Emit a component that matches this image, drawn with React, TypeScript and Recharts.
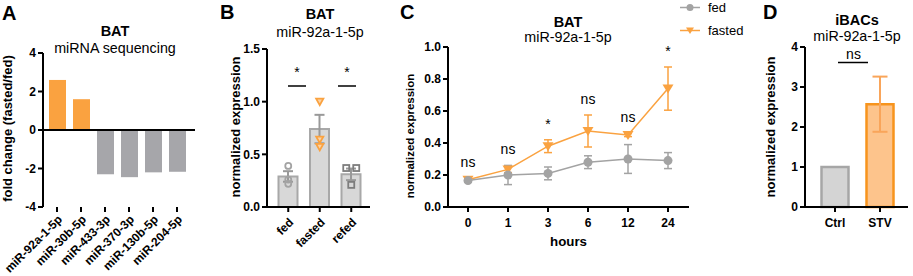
import React from "react";
import {
  BarChart,
  Bar,
  ComposedChart,
  LineChart,
  Line,
  XAxis,
  YAxis,
  Cell,
  ErrorBar,
  ReferenceLine,
} from "recharts";

const W = 913;
const H = 276;
const FONT = "'Liberation Sans', Arial, Helvetica, sans-serif";

const ORANGE = "#faa240";
const GRAY = "#a6a6aa";

// A: BAT miRNA sequencing, fold change fasted/fed
const seqMirs = ["miR-92a-1-5p", "miR-30b-5p", "miR-433-3p", "miR-370-3p", "miR-130b-5p", "miR-204-5p"];
const seqFold = [2.6, 1.6, -2.3, -2.45, -2.2, -2.17];

// B: BAT miR-92a-1-5p by feeding state
const batGroups = ["fed", "fasted", "refed"];
const batMean = [0.29, 0.74, 0.31];
const batSem = [0.05, 0.135, 0.055];
const batRep1 = [0.39, 1.0, 0.37];
const batRep2 = [0.26, 0.64, 0.37];
const batRep3 = [0.22, 0.57, 0.21];

// C: BAT miR-92a-1-5p time course
const hours = ["0", "1", "3", "6", "12", "24"];
const fedMean = [0.165, 0.2, 0.21, 0.28, 0.3, 0.29];
const fedSem = [0.01, 0.06, 0.04, 0.04, 0.09, 0.05];
const fastedMean = [0.17, 0.235, 0.38, 0.475, 0.45, 0.74];
const fastedSem = [0.01, 0.02, 0.04, 0.1, 0.01, 0.135];
const timeSig = ["ns", "ns", "*", "ns", "ns", "*"];

// D: iBACs
const cellGroups = ["Ctrl", "STV"];
const cellMean = [1.0, 2.57];
const cellSem = [undefined, 0.69];

const aData = seqMirs.map((m, i) => ({ mir: m, fold: seqFold[i] }));
const bData = batGroups.map((g, i) => ({
  g,
  mean: batMean[i],
  sem: batSem[i],
  p1: batRep1[i],
  p2: batRep2[i],
  p3: batRep3[i],
}));
const cData = hours.map((h, i) => ({
  h,
  fed: fedMean[i],
  fedErr: fedSem[i],
  fasted: fastedMean[i],
  fastedErr: fastedSem[i],
  top: Math.max(fedMean[i] + fedSem[i], fastedMean[i] + fastedSem[i]),
  sig: timeSig[i],
}));
const dData = cellGroups.map((g, i) => ({ g, mean: cellMean[i], sem: cellSem[i] }));

const axisLine = { stroke: "#000", strokeWidth: 2 };
const tickStyle = { fill: "#000", fontSize: 12, fontWeight: 700, fontFamily: FONT };
const YW = 40;

const rotTick = (dx: number, dy: number) => (props: any) => {
  const { x, y, payload } = props;
  return (
    <text
      transform={`translate(${x + dx},${y + dy}) rotate(-45)`}
      textAnchor="end"
      fontSize={12}
      fontWeight={700}
      fill="#000"
      fontFamily={FONT}
    >
      {payload.value}
    </text>
  );
};

// replicate dots for panel B, small spread when two values overlap
const repKeys = ["p1", "p2", "p3"];
const repDot = (key: string) => (props: any) => {
  const { cx, cy, payload, index } = props;
  if (cx == null || cy == null) return <g key={`${key}-${index}`} />;
  const i = repKeys.indexOf(key);
  let dx = 0;
  repKeys.forEach((k, j) => {
    if (j !== i && Math.abs(payload[k] - payload[key]) < 0.03) dx = i < j ? -5 : 5;
  });
  const x = cx + dx;
  if (payload.g === "fed")
    return <circle key={`${key}-${index}`} cx={x} cy={cy} r={3} fill="none" stroke="#a3a3a3" strokeWidth={1.8} />;
  if (payload.g === "fasted")
    return (
      <path
        key={`${key}-${index}`}
        d={`M${x - 3.6},${cy - 3} L${x + 3.6},${cy - 3} L${x},${cy + 3.4} Z`}
        fill="#fcd3a5"
        stroke={ORANGE}
        strokeWidth={1.8}
      />
    );
  return (
    <rect key={`${key}-${index}`} x={x - 3} y={cy - 3} width={6} height={6} fill="none" stroke="#7d7d7d" strokeWidth={1.8} />
  );
};

const circleDot = (color: string) => (props: any) => {
  const { cx, cy, index } = props;
  if (cx == null || cy == null) return <g key={`c-${index}`} />;
  return <circle key={`c-${index}`} cx={cx} cy={cy} r={4.5} fill={color} />;
};

const triDot = (color: string) => (props: any) => {
  const { cx, cy, index } = props;
  if (cx == null || cy == null) return <g key={`t-${index}`} />;
  return <path key={`t-${index}`} d={`M${cx - 5.5},${cy - 4} L${cx + 5.5},${cy - 4} L${cx},${cy + 5} Z`} fill={color} />;
};

const sigDot = (props: any) => {
  const { cx, cy, payload, index } = props;
  if (cx == null || cy == null) return <g key={`s-${index}`} />;
  return (
    <text key={`s-${index}`} x={cx} y={cy - 11} textAnchor="middle" fontSize={14} fill="#000" fontFamily={FONT}>
      {payload.sig}
    </text>
  );
};

const YLabel = ({ x, y, text, size = 13 }: { x: number; y: number; text: string; size?: number }) => (
  <text
    transform={`translate(${x},${y}) rotate(-90)`}
    textAnchor="middle"
    dominantBaseline="central"
    fontSize={size}
    fontWeight={700}
    fill="#000"
  >
    {text}
  </text>
);

const layer: React.CSSProperties = { position: "absolute", left: 0, top: 0 };

export default function App() {
  return (
    <div style={{ position: "absolute", left: 0, top: 0, width: W, height: H, background: "#fff", fontFamily: FONT }}>
      {/* A */}
      <div style={layer}>
        <BarChart width={W} height={H} data={aData} margin={{ top: 53, left: 43 - YW, right: W - 195, bottom: H - 207 - 60 }}>
          <XAxis
            dataKey="mir"
            axisLine={false}
            tickLine={axisLine}
            tickSize={5}
            height={60}
            interval={0}
            padding={{ left: 2, right: 6 }}
            tick={rotTick(6, 6)}
          />
          <YAxis
            type="number"
            domain={[-4, 4]}
            ticks={[-4, -2, 0, 2, 4]}
            interval={0}
            width={YW}
            axisLine={axisLine}
            tickLine={axisLine}
            tickSize={5}
            tick={tickStyle}
          />
          <Bar dataKey="fold" barSize={17} isAnimationActive={false}>
            {aData.map((d, i) => (
              <Cell key={i} fill={d.fold > 0 ? ORANGE : GRAY} />
            ))}
          </Bar>
          <ReferenceLine y={0} stroke="#000" strokeWidth={2} />
        </BarChart>
      </div>

      {/* B */}
      <div style={layer}>
        <ComposedChart width={W} height={H} data={bData} margin={{ top: 49, left: 267 - YW, right: W - 370, bottom: H - 207 - 40 }}>
          <XAxis
            dataKey="g"
            axisLine={axisLine}
            tickLine={axisLine}
            tickSize={5}
            height={40}
            interval={0}
            padding={{ left: 5.5, right: 3 }}
            tick={rotTick(6, 9)}
          />
          <YAxis
            type="number"
            domain={[0, 1.5]}
            ticks={[0, 0.5, 1, 1.5]}
            interval={0}
            width={YW}
            axisLine={axisLine}
            tickLine={axisLine}
            tickSize={5}
            tick={tickStyle}
            tickFormatter={(v: number) => v.toFixed(1)}
          />
          <Bar dataKey="mean" barSize={19} fill="#d8d8d8" stroke="#a8a8a8" strokeWidth={2} isAnimationActive={false}>
            <ErrorBar dataKey="sem" width={5} stroke="#999" strokeWidth={2} direction="y" />
          </Bar>
          {repKeys.map((k) => (
            <Line key={k} dataKey={k} stroke="none" dot={repDot(k)} activeDot={false} legendType="none" isAnimationActive={false} />
          ))}
        </ComposedChart>
      </div>

      {/* C */}
      <div style={layer}>
        <LineChart width={W} height={H} data={cData} margin={{ top: 47, left: 448 - YW, right: W - 689, bottom: H - 207 - 30 }}>
          <XAxis
            dataKey="h"
            axisLine={axisLine}
            tickLine={axisLine}
            tickSize={5}
            tickMargin={6}
            height={30}
            interval={0}
            padding={{ left: 20, right: 21 }}
            tick={tickStyle}
          />
          <YAxis
            type="number"
            domain={[0, 1]}
            ticks={[0, 0.2, 0.4, 0.6, 0.8, 1]}
            interval={0}
            width={YW}
            axisLine={axisLine}
            tickLine={axisLine}
            tickSize={5}
            tick={tickStyle}
            tickFormatter={(v: number) => v.toFixed(1)}
          />
          <Line dataKey="fasted" stroke={ORANGE} strokeWidth={1.5} dot={triDot(ORANGE)} activeDot={false} isAnimationActive={false}>
            <ErrorBar dataKey="fastedErr" width={4} stroke={ORANGE} strokeWidth={1.5} direction="y" />
          </Line>
          <Line dataKey="fed" stroke="#a3a3a3" strokeWidth={1.5} dot={circleDot("#a3a3a3")} activeDot={false} isAnimationActive={false}>
            <ErrorBar dataKey="fedErr" width={4} stroke="#a3a3a3" strokeWidth={1.5} direction="y" />
          </Line>
          <Line dataKey="top" stroke="none" dot={sigDot} activeDot={false} legendType="none" isAnimationActive={false} />
        </LineChart>
      </div>

      {/* D */}
      <div style={layer}>
        <BarChart width={W} height={H} data={dData} margin={{ top: 47, left: 805 - YW, right: W - 908, bottom: H - 207 - 30 }}>
          <XAxis
            dataKey="g"
            axisLine={axisLine}
            tickLine={axisLine}
            tickSize={5}
            tickMargin={6}
            height={30}
            interval={0}
            padding={{ left: 7.5, right: 5.5 }}
            tick={tickStyle}
          />
          <YAxis
            type="number"
            domain={[0, 4]}
            ticks={[0, 1, 2, 3, 4]}
            interval={0}
            width={YW}
            axisLine={axisLine}
            tickLine={axisLine}
            tickSize={5}
            tick={tickStyle}
          />
          <Bar dataKey="mean" barSize={27} strokeWidth={2.5} isAnimationActive={false}>
            {dData.map((d, i) => (
              <Cell key={i} fill={i === 0 ? "#d4d4d4" : "#fdc48c"} stroke={i === 0 ? "#a6a6a6" : "#f7941d"} />
            ))}
            <ErrorBar dataKey="sem" width={7.5} stroke="#f9a55a" strokeWidth={2} direction="y" />
          </Bar>
        </BarChart>
      </div>

      {/* titles, labels, annotations */}
      <svg width={W} height={H} style={{ ...layer, pointerEvents: "none" }} fontFamily={FONT}>
        <g fontSize={20} fontWeight={700} fill="#000">
          <text x={2} y={20}>A</text>
          <text x={220} y={19}>B</text>
          <text x={400} y={19}>C</text>
          <text x={763} y={19}>D</text>
        </g>
        <g textAnchor="middle" fill="#000">
          <text x={115} y={36} fontSize={14.5} fontWeight={700}>BAT</text>
          <text x={115} y={53} fontSize={14.3}>miRNA sequencing</text>
          <text x={320} y={19.3} fontSize={14.5} fontWeight={700}>BAT</text>
          <text x={320} y={36.7} fontSize={14.3}>miR-92a-1-5p</text>
          <text x={568} y={27} fontSize={14.5} fontWeight={700}>BAT</text>
          <text x={568} y={42} fontSize={14.3}>miR-92a-1-5p</text>
          <text x={857} y={25} fontSize={14.5} fontWeight={700}>iBACs</text>
          <text x={857} y={40.5} fontSize={14.3}>miR-92a-1-5p</text>
          <text x={568.5} y={246} fontSize={13.3} fontWeight={700}>hours</text>
        </g>
        <YLabel x={7} y={128.5} text="fold change (fasted/fed)" />
        <YLabel x={235} y={127} text="normalized expression" />
        <YLabel x={410} y={136} text="normalized expression" size={11.5} />
        <YLabel x={770} y={127} text="normalized expression" />

        {/* significance marks */}
        <g stroke="#000" strokeWidth={1.5}>
          <line x1={288} y1={86} x2={306} y2={86} />
          <line x1={338} y1={86} x2={356} y2={86} />
          <line x1={838} y1={62.5} x2={868} y2={62.5} />
        </g>
        <g textAnchor="middle" fill="#000" fontSize={14}>
          <text x={297} y={77}>*</text>
          <text x={347} y={77}>*</text>
          <text x={853.5} y={59}>ns</text>
        </g>

        {/* C legend */}
        <line x1={680} y1={7.5} x2={700} y2={7.5} stroke="#a3a3a3" strokeWidth={1.5} />
        <circle cx={690} cy={7.5} r={3.5} fill="#a3a3a3" />
        <text x={708} y={12} fontSize={13} fill="#000">fed</text>
        <line x1={680} y1={30.5} x2={700} y2={30.5} stroke={ORANGE} strokeWidth={1.5} />
        <path d={`M${686},${27.5} L${694},${27.5} L${690},${34} Z`} fill={ORANGE} />
        <text x={708} y={35} fontSize={13} fill="#000">fasted</text>
      </svg>
    </div>
  );
}
